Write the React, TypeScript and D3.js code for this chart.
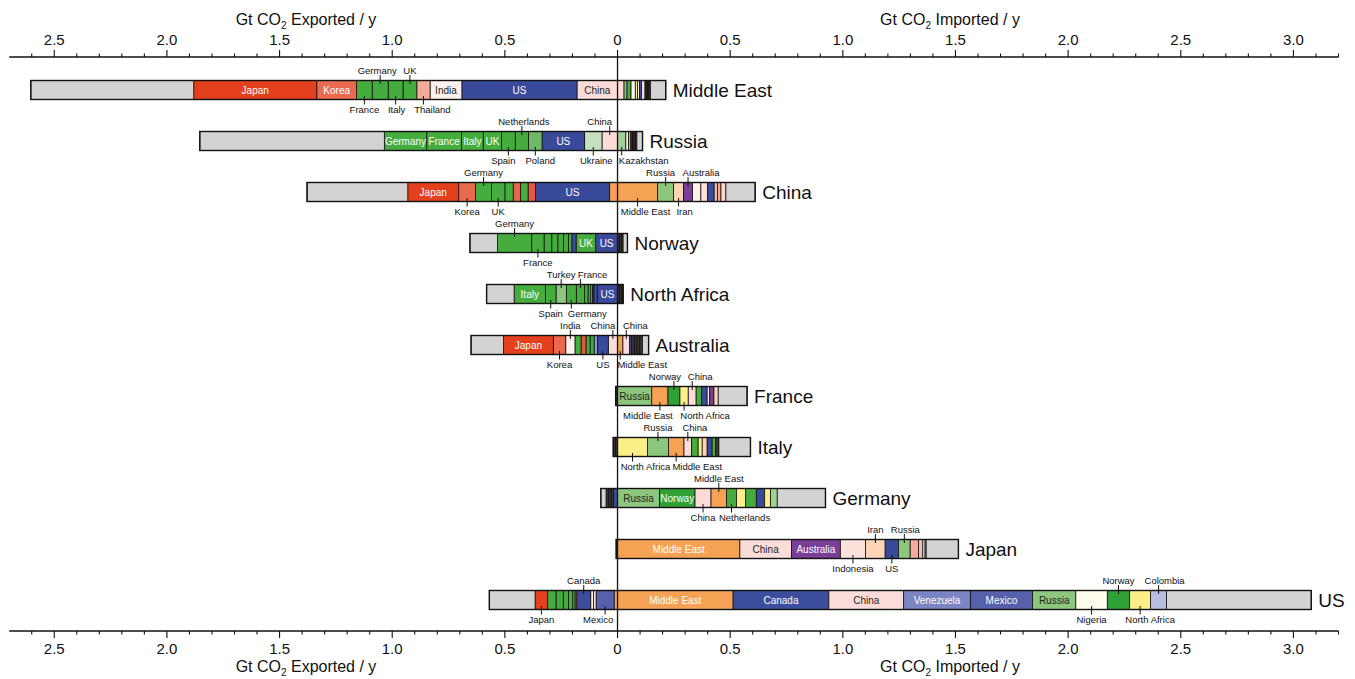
import React from 'react'
import * as d3 from 'd3'

type Flow = [string, number]

const regions = ['Middle East', 'Russia', 'China', 'Norway', 'North Africa', 'Australia', 'France', 'Italy', 'Germany', 'Japan', 'US']

// Gt CO2 / y, each list runs from the zero line outward
const middleEastExports: Flow[] = [['China', 0.18], ['US', 0.511], ['India', 0.141], ['Thailand', 0.059], ['UK', 0.061], ['Italy', 0.066], ['Germany', 0.071], ['France', 0.069], ['Korea', 0.177], ['Japan', 0.546], ['Other', 0.723]]
const middleEastImports: Flow[] = [['China', 0.029], ['Turkey', 0.013], ['Germany', 0.018], ['India', 0.019], ['North Africa', 0.01], ['Nigeria', 0.008], ['US', 0.01], ['Indonesia', 0.015], ['Minor', 0.006], ['Minor', 0.006], ['Minor', 0.006], ['Minor', 0.006], ['Other', 0.068]]

const russiaExports: Flow[] = [['China', 0.069], ['Ukraine', 0.077], ['US', 0.189], ['Poland', 0.06], ['Netherlands', 0.059], ['Spain', 0.061], ['UK', 0.081], ['Italy', 0.096], ['France', 0.155], ['Germany', 0.188], ['Other', 0.819]]
const russiaImports: Flow[] = [['Kazakhstan', 0.037], ['India', 0.012], ['Middle East', 0.01], ['Minor', 0.007], ['Minor', 0.007], ['Minor', 0.007], ['Minor', 0.006], ['Other', 0.025]]

const chinaExports: Flow[] = [['Middle East', 0.035], ['US', 0.329], ['Taiwan', 0.033], ['Netherlands', 0.034], ['Singapore', 0.032], ['France', 0.037], ['UK', 0.059], ['Germany', 0.071], ['Korea', 0.075], ['Japan', 0.226], ['Other', 0.447]]
const chinaImports: Flow[] = [['Middle East', 0.178], ['Russia', 0.071], ['Iran', 0.044], ['Australia', 0.04], ['India', 0.037], ['Indonesia', 0.03], ['Canada', 0.029], ['Malaysia', 0.015], ['Thailand', 0.015], ['Vietnam', 0.022], ['Other', 0.13]]

const norwayExports: Flow[] = [['US', 0.097], ['UK', 0.087], ['Canada', 0.019], ['Belgium', 0.015], ['Sweden', 0.022], ['Spain', 0.025], ['Italy', 0.027], ['Netherlands', 0.034], ['France', 0.055], ['Germany', 0.152], ['Other', 0.122]]
const norwayImports: Flow[] = [['Minor', 0.009], ['Minor', 0.008], ['Minor', 0.008], ['Other', 0.019]]

const northAfricaExports: Flow[] = [['US', 0.09], ['Canada', 0.015], ['Minor', 0.006], ['Brazil', 0.008], ['Greece', 0.012], ['Netherlands', 0.015], ['France', 0.037], ['Germany', 0.044], ['Turkey', 0.046], ['Spain', 0.047], ['Italy', 0.139], ['Other', 0.122]]
const northAfricaImports: Flow[] = [['Minor', 0.009], ['Minor', 0.008], ['Minor', 0.008]]

const australiaExports: Flow[] = [['China', 0.041], ['US', 0.048], ['Brazil', 0.015], ['Netherlands', 0.018], ['UK', 0.018], ['Taiwan', 0.022], ['Germany', 0.027], ['India', 0.041], ['Korea', 0.055], ['Japan', 0.221], ['Other', 0.144]]
const australiaImports: Flow[] = [['Middle East', 0.024], ['China', 0.03], ['US', 0.009], ['Minor', 0.012], ['Minor', 0.012], ['Minor', 0.012], ['Minor', 0.012], ['Other', 0.027]]

const franceExports: Flow[] = [['Minor', 0.008]]
const franceImports: Flow[] = [['Russia', 0.152], ['Middle East', 0.072], ['Norway', 0.053], ['North Africa', 0.037], ['China', 0.035], ['Netherlands', 0.024], ['US', 0.025], ['India', 0.011], ['Australia', 0.019], ['Iran', 0.019], ['Other', 0.128]]

const italyExports: Flow[] = [['Minor', 0.01], ['Minor', 0.009]]
const italyImports: Flow[] = [['North Africa', 0.133], ['Russia', 0.093], ['Middle East', 0.069], ['China', 0.034], ['Netherlands', 0.029], ['West Africa', 0.018], ['Iran', 0.022], ['US', 0.022], ['Germany', 0.015], ['Minor', 0.015], ['Other', 0.14]]

const germanyExports: Flow[] = [['US', 0.018], ['Minor', 0.011], ['Minor', 0.011], ['Minor', 0.011], ['Other', 0.023]]
const germanyImports: Flow[] = [['Russia', 0.186], ['Norway', 0.158], ['China', 0.071], ['Middle East', 0.069], ['Netherlands', 0.044], ['West Africa', 0.041], ['UK', 0.047], ['US', 0.037], ['North Africa', 0.026], ['Kazakhstan', 0.03], ['Other', 0.214]]

const japanExports: Flow[] = [['Minor', 0.006]]
const japanImports: Flow[] = [['Middle East', 0.543], ['China', 0.229], ['Australia', 0.217], ['Indonesia', 0.112], ['Iran', 0.087], ['US', 0.059], ['Russia', 0.052], ['Thailand', 0.037], ['Malaysia', 0.019], ['India', 0.01], ['Brazil', 0.005], ['Other', 0.143]]

const usExports: Flow[] = [['Middle East', 0.015], ['Mexico', 0.08], ['China', 0.012], ['India', 0.012], ['Canada', 0.062], ['Taiwan', 0.008], ['Belgium', 0.01], ['Netherlands', 0.019], ['France', 0.023], ['UK', 0.032], ['Germany', 0.037], ['Japan', 0.056], ['Other', 0.203]]
const usImports: Flow[] = [['Middle East', 0.513], ['Canada', 0.425], ['China', 0.332], ['Venezuela', 0.296], ['Mexico', 0.276], ['Russia', 0.192], ['Nigeria', 0.14], ['Norway', 0.099], ['North Africa', 0.093], ['Colombia', 0.071], ['Other', 0.642]]

const exportsOf: Record<string, Flow[]> = {
  'Middle East': middleEastExports, Russia: russiaExports, China: chinaExports, Norway: norwayExports,
  'North Africa': northAfricaExports, Australia: australiaExports, France: franceExports, Italy: italyExports,
  Germany: germanyExports, Japan: japanExports, US: usExports
}
const importsOf: Record<string, Flow[]> = {
  'Middle East': middleEastImports, Russia: russiaImports, China: chinaImports, Norway: norwayImports,
  'North Africa': northAfricaImports, Australia: australiaImports, France: franceImports, Italy: italyImports,
  Germany: germanyImports, Japan: japanImports, US: usImports
}

const green = '#45ad3d'
const partnerColors: Record<string, string> = {
  Other: '#d3d3d3', Minor: '#3a3434',
  Japan: '#e5401d', Korea: '#ea6a4f', Taiwan: '#e9573f', Singapore: '#ec6549', Thailand: '#f4ab9b', Malaysia: '#f6bcae',
  India: '#fdf1ec', Indonesia: '#fde2dc', China: '#fcdcd8', Vietnam: '#fbd9c3',
  'Middle East': '#f5a254', Iran: '#fdd4b5',
  US: '#3a4a9b', Canada: '#3d4d9e', Mexico: '#5660ab', Venezuela: '#7b85c3', Brazil: '#8f98d0', Colombia: '#b9bde2',
  Germany: green, France: green, Italy: green, UK: green, Spain: green, Netherlands: green, Belgium: green, Greece: green, Sweden: green,
  Poland: '#6fb865', Turkey: '#8dc781', Russia: '#8dc77e', Ukraine: '#c5e1bf', Kazakhstan: '#a2d197', Norway: '#30a137',
  'North Africa': '#fbf087', 'West Africa': '#fbf087', Nigeria: '#fefcec', Australia: '#7a3e97'
}
const darkText = new Set(['China', 'India', 'Russia'])

// which segments carry a name: side, partner, where, and a sideways nudge of the text
const labelSpots: Record<string, [string, string, string, number][]> = {
  'Middle East': [['ex', 'Japan', 'in', 0], ['ex', 'Korea', 'in', 0], ['ex', 'India', 'in', 0], ['ex', 'US', 'in', 0], ['ex', 'China', 'in', 0], ['ex', 'Germany', 'above', -3], ['ex', 'UK', 'above', 0], ['ex', 'France', 'below', 0], ['ex', 'Italy', 'below', 1], ['ex', 'Thailand', 'below', 9]],
  Russia: [['ex', 'Germany', 'in', 0], ['ex', 'France', 'in', 0], ['ex', 'Italy', 'in', 0], ['ex', 'UK', 'in', 0], ['ex', 'US', 'in', 0], ['ex', 'Netherlands', 'above', 2], ['ex', 'China', 'above', -10], ['ex', 'Spain', 'below', -5], ['ex', 'Poland', 'below', 5], ['ex', 'Ukraine', 'below', 3], ['im', 'Kazakhstan', 'below', 22]],
  China: [['ex', 'Japan', 'in', 0], ['ex', 'US', 'in', 0], ['ex', 'Germany', 'above', 0], ['ex', 'Korea', 'below', 0], ['ex', 'UK', 'below', 0], ['im', 'Russia', 'above', -5], ['im', 'Australia', 'above', 13], ['im', 'Middle East', 'below', 8], ['im', 'Iran', 'below', 6]],
  Norway: [['ex', 'Germany', 'above', 0], ['ex', 'France', 'below', 0], ['ex', 'UK', 'in', 0], ['ex', 'US', 'in', 0]],
  'North Africa': [['ex', 'Italy', 'in', 0], ['ex', 'US', 'in', 0], ['ex', 'Turkey', 'above', 0], ['ex', 'France', 'above', 12], ['ex', 'Spain', 'below', 0], ['ex', 'Germany', 'below', 16]],
  Australia: [['ex', 'Japan', 'in', 0], ['ex', 'India', 'above', 0], ['ex', 'China', 'above', -10], ['ex', 'Korea', 'below', 0], ['ex', 'US', 'below', 0], ['im', 'China', 'above', 9], ['im', 'Middle East', 'below', 22]],
  France: [['im', 'Russia', 'in', 0], ['im', 'Norway', 'above', -9], ['im', 'China', 'above', 8], ['im', 'Middle East', 'below', -12], ['im', 'North Africa', 'below', 21]],
  Italy: [['im', 'Russia', 'above', 0], ['im', 'China', 'above', 7], ['im', 'North Africa', 'below', 13], ['im', 'Middle East', 'below', 21]],
  Germany: [['im', 'Russia', 'in', 0], ['im', 'Norway', 'in', 0], ['im', 'Middle East', 'above', 0], ['im', 'China', 'below', 0], ['im', 'Netherlands', 'below', 13]],
  Japan: [['im', 'Middle East', 'in', 0], ['im', 'China', 'in', 0], ['im', 'Australia', 'in', 0], ['im', 'Iran', 'above', 0], ['im', 'Russia', 'above', 1], ['im', 'Indonesia', 'below', 0], ['im', 'US', 'below', 0]],
  US: [['ex', 'Canada', 'above', 0], ['ex', 'Japan', 'below', 0], ['ex', 'Mexico', 'below', -7], ['im', 'Middle East', 'in', 0], ['im', 'Canada', 'in', 0], ['im', 'China', 'in', 0], ['im', 'Venezuela', 'in', 0], ['im', 'Mexico', 'in', 0], ['im', 'Russia', 'in', 0], ['im', 'Norway', 'above', 0], ['im', 'Colombia', 'above', 6], ['im', 'Nigeria', 'below', 0], ['im', 'North Africa', 'below', 10]]
}

const W = 1355
const H = 679
const FONT = 'Liberation Sans, Arial, Helvetica, sans-serif'
const BAR = 19
const TOP_AXIS = 57
const BOTTOM_AXIS = 631

const x = d3.scaleLinear().domain([-2.7, 3.2]).range([9.2, 1338.5])
const y = d3.scalePoint<string>().domain(regions).range([90, 600])
const ticks = d3.range(-26, 33).map(i => i / 10)
const fmt = (v: number) => (Math.abs(v) < 1e-9 ? '0' : d3.format('.1f')(Math.abs(v)))
const isMajor = (v: number) => Math.abs(Math.round(v * 2) - v * 2) < 1e-6

function stack(flows: Flow[], sign: number, side: string) {
  let acc = 0
  return flows.map(([partner, v]) => {
    const a = acc
    acc += v
    return { partner, side, from: sign * a, to: sign * acc }
  })
}

const Title = ({ cx, yy, word }: { cx: number; yy: number; word: string }) => (
  <text x={cx} y={yy} textAnchor="middle" fontSize={16} fill="#111">
    Gt CO<tspan dy={4} fontSize={10}>2</tspan><tspan dy={-4}>{` ${word} / y`}</tspan>
  </text>
)

const Axis = ({ yy, dir }: { yy: number; dir: number }) => (
  <g>
    <line x1={x(-2.7)} x2={x(3.2)} y1={yy} y2={yy} stroke="#111" strokeWidth={1.3} />
    {ticks.map(t => (
      <line key={t} x1={x(t)} x2={x(t)} y1={yy} y2={yy + dir * (isMajor(t) ? 7 : 3.5)} stroke="#111" strokeWidth={1.1} />
    ))}
    {ticks.filter(t => isMajor(t) && t >= -2.5 && t <= 3.0).map(t => (
      <text key={t} x={x(t)} y={dir < 0 ? yy - 12 : yy + 23} textAnchor="middle" fontSize={15} fill="#111">{fmt(t)}</text>
    ))}
  </g>
)

const Row = ({ region }: { region: string }) => {
  const cy = y(region) as number
  const top = cy - BAR / 2
  const bottom = cy + BAR / 2
  const segs = [...stack(exportsOf[region], -1, 'ex'), ...stack(importsOf[region], 1, 'im')]
  const totEx = d3.sum(exportsOf[region], d => d[1])
  const totIm = d3.sum(importsOf[region], d => d[1])
  return (
    <g>
      {segs.map((s, i) => (
        <rect key={i} x={x(Math.min(s.from, s.to))} y={top} width={Math.abs(x(s.to) - x(s.from))} height={BAR}
          fill={partnerColors[s.partner]} stroke="#111" strokeWidth={0.8} />
      ))}
      <rect x={x(-totEx)} y={top} width={x(totIm) - x(-totEx)} height={BAR} fill="none" stroke="#111" strokeWidth={1.4} />
      {labelSpots[region].map(([side, partner, place, dx], i) => {
        const s = segs.find(d => d.side === side && d.partner === partner)
        if (!s) return null
        const mx = x((s.from + s.to) / 2)
        if (place === 'in') {
          return (
            <text key={i} x={mx} y={cy + 3.6} textAnchor="middle" fontSize={10}
              fill={darkText.has(partner) ? '#222' : '#fff'}>{partner}</text>
          )
        }
        if (place === 'above') {
          return (
            <g key={i}>
              <line x1={mx} x2={mx} y1={top - 5.5} y2={top + 3.5} stroke="#111" strokeWidth={1} />
              <text x={mx + dx} y={top - 7} textAnchor="middle" fontSize={9.5} fill="#111">{partner}</text>
            </g>
          )
        }
        return (
          <g key={i}>
            <line x1={mx} x2={mx} y1={bottom - 3.5} y2={bottom + 5} stroke="#111" strokeWidth={1} />
            <text x={mx + dx} y={bottom + 13.5} textAnchor="middle" fontSize={9.5} fill="#111">{partner}</text>
          </g>
        )
      })}
      <text x={x(totIm) + 7} y={cy + 7} fontSize={19} fill="#111">{region}</text>
    </g>
  )
}

export default function App() {
  return (
    <svg width={W} height={H} fontFamily={FONT}
      style={{ position: 'absolute', left: 0, top: 0, background: '#fff', display: 'block' }}>
      <Title cx={306} yy={25} word="Exported" />
      <Title cx={950} yy={25} word="Imported" />
      <Axis yy={TOP_AXIS} dir={-1} />
      {regions.map(r => <Row key={r} region={r} />)}
      <line x1={x(0)} x2={x(0)} y1={TOP_AXIS} y2={BOTTOM_AXIS} stroke="#111" strokeWidth={1.3} />
      <Axis yy={BOTTOM_AXIS} dir={1} />
      <Title cx={306} yy={672} word="Exported" />
      <Title cx={950} yy={672} word="Imported" />
    </svg>
  )
}
